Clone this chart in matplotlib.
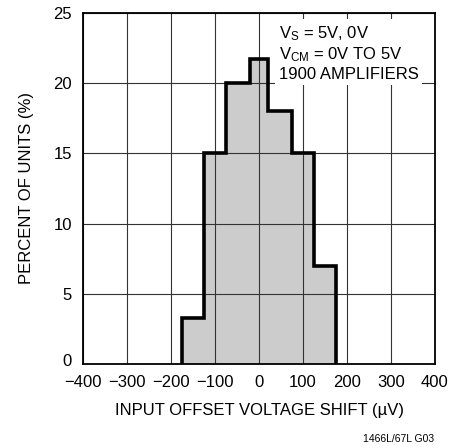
import matplotlib
matplotlib.use("Agg")
import matplotlib.pyplot as plt
import matplotlib.transforms as mtransforms

plt.rcParams["font.family"] = ["Liberation Sans", "DejaVu Sans"]
plt.rcParams["mathtext.fontset"] = "custom"
plt.rcParams["mathtext.rm"] = "Liberation Sans"
plt.rcParams["mathtext.default"] = "regular"

# histogram (bin edges in uV, percent of units)
bin_edges = [-175, -125, -75, -20, 20, 75, 125, 175]
percent_units = [3.3, 15, 20, 21.7, 18, 15, 7]

x_ticks = [-400, -300, -200, -100, 0, 100, 200, 300, 400]
x_tick_labels = ["\u2212400", "\u2212300", "\u2212200", "\u2212100", "0", "100", "200", "300", "400"]
y_ticks = [0, 5, 10, 15, 20, 25]

fig = plt.figure(figsize=(4.64, 4.48), dpi=100)
ax = fig.add_axes([0.179, 0.1875, 0.7585, 0.7835])

ax.stairs(percent_units, bin_edges, fill=True, color="#cccccc", zorder=1)
ax.grid(True, color="#333333", linewidth=0.8)
ax.set_axisbelow(False)
for line in ax.get_xgridlines() + ax.get_ygridlines():
    line.set_zorder(2)
ax.stairs(percent_units, bin_edges, baseline=0, color="black", linewidth=2.6, zorder=3)

ax.set_xlim(-400, 400)
ax.set_ylim(0, 25)
ax.set_xticks(x_ticks)
ax.set_xticklabels(x_tick_labels)
ax.set_yticks(y_ticks)
ax.tick_params(length=0, labelsize=12)
ax.tick_params(axis="x", pad=8)
ax.tick_params(axis="y", pad=8)
for spine in ax.spines.values():
    spine.set_linewidth(1.3)
    spine.set_zorder(4)

# the "0" on the y axis sits a little high in the original
fig.canvas.draw()
zero_label = ax.get_yticklabels()[0]
zero_label.set_transform(zero_label.get_transform()
                         + mtransforms.ScaledTranslation(0, 3 / 72, fig.dpi_scale_trans))

ax.set_xlabel("INPUT OFFSET VOLTAGE SHIFT (\u00b5V)", fontsize=12, labelpad=9)
ax.set_ylabel("PERCENT OF UNITS (%)", fontsize=12, labelpad=14)

ax.text(45, 24.2, "V$_S$ = 5V, 0V\nV$_{CM}$ = 0V TO 5V\n1900 AMPLIFIERS",
        fontsize=12, va="top", ha="left", linespacing=1.2, zorder=5,
        bbox=dict(boxstyle="square,pad=0.2", facecolor="white", edgecolor="none"))

fig.text(0.935, 0.008, "1466L/67L G03", fontsize=7.5, ha="right", va="bottom")

fig.savefig("out.png", dpi=100)
